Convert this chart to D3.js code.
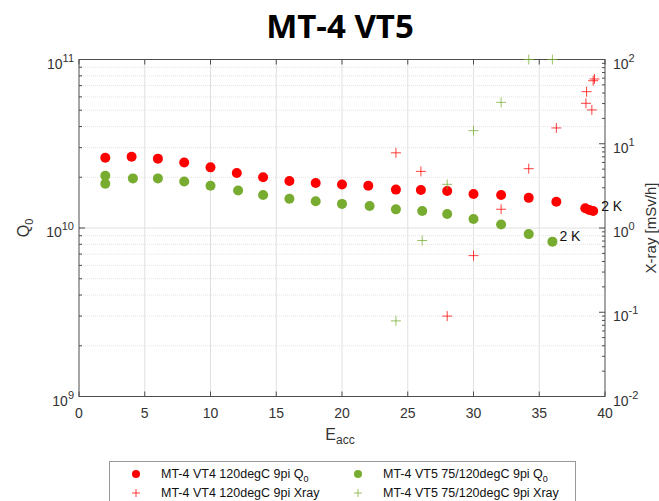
<!DOCTYPE html>
<html>
<head>
<meta charset="utf-8">
<script src="https://cdn.jsdelivr.net/npm/d3@7"></script>
<style>
  body { margin: 0; background: #fff; }
  text { font-family: "Liberation Sans", Arial, sans-serif; }
</style>
</head>
<body>
<script>
// MT-4 VT4 data (120degC 9pi)
var eaccVT4 = [2, 4, 6, 8, 10, 12, 14, 16, 18, 20, 22, 24.1, 26, 28, 30, 32.1, 34.2, 36.3, 38.5, 38.8, 39.1];
var q0VT4 = [2.61e10, 2.65e10, 2.58e10, 2.45e10, 2.29e10, 2.12e10, 2.0e10, 1.9e10, 1.85e10, 1.81e10, 1.78e10,
             1.69e10, 1.68e10, 1.66e10, 1.59e10, 1.57e10, 1.51e10, 1.43e10, 1.31e10, 1.28e10, 1.26e10];
var eaccXrayVT4 = [24.1, 26, 28, 30, 32.1, 34.2, 36.3, 38.55, 38.6, 39.0, 39.1, 39.2];
var xrayVT4 = [7.8, 4.7, 0.09, 0.47, 1.67, 5.06, 15.4, 30.2, 41.5, 25.2, 56, 58.7];

// MT-4 VT5 data (75/120degC 9pi)
var eaccVT5 = [2, 2, 4.1, 6, 8, 10, 12.1, 14, 16, 18, 20, 22.1, 24.1, 26.1, 28, 30, 32.1, 34.2, 36];
var q0VT5 = [2.04e10, 1.83e10, 1.97e10, 1.97e10, 1.89e10, 1.78e10, 1.67e10, 1.57e10, 1.49e10, 1.44e10, 1.39e10,
             1.35e10, 1.29e10, 1.26e10, 1.21e10, 1.13e10, 1.05e10, 9.2e9, 8.3e9];
var eaccXrayVT5 = [24.1, 26.1, 28, 30, 32.1, 34.2, 36];
var xrayVT5 = [0.079, 0.71, 3.3, 14.3, 31, 100, 100];

var xTicks = [0, 5, 10, 15, 20, 25, 30, 35, 40];
var leftDecades = [9, 10, 11];
var rightDecades = [-2, -1, 0, 1, 2];
var legendLabels = ["MT-4 VT4 120degC 9pi Q", "MT-4 VT5 75/120degC 9pi Q",
                    "MT-4 VT4 120degC 9pi Xray", "MT-4 VT5 75/120degC 9pi Xray"];

var red = "#ff0000", green = "#77ac30", axisCol = "#4d4d4d", textCol = "#333";

var W = 659, H = 501;
var L = 79, R = 605, T = 59.5, B = 396.5;

var svg = d3.select("body").append("svg")
            .attr("width", W).attr("height", H);

var x = d3.scaleLinear().domain([0, 40]).range([L, R]);
var yL = d3.scaleLog().domain([1e9, 1e11]).range([B, T]);
var yR = d3.scaleLog().domain([1e-2, 1e2]).range([B, T]);

// title
svg.append("text")
   .attr("x", 340).attr("y", 38)
   .attr("text-anchor", "middle")
   .style("font-family", "'Open Sans', sans-serif")
   .style("font-weight", "bold")
   .style("font-size", "33px")
   .attr("fill", "#000")
   .text("MT-4 VT5");

// minor values per decade
function minors(lo, hi) {
    var out = [];
    for (var d = lo; d < hi; d++)
        for (var m = 2; m <= 9; m++) out.push(m * Math.pow(10, d));
    return out;
}

// grid
var grid = svg.append("g");
grid.selectAll(".gx").data(xTicks.slice(1, -1)).enter().append("line")
    .attr("x1", d => x(d)).attr("x2", d => x(d))
    .attr("y1", T).attr("y2", B)
    .attr("stroke", "#e0e0e0").attr("stroke-width", 1);
grid.selectAll(".gym").data(minors(9, 11)).enter().append("line")
    .attr("x1", L).attr("x2", R)
    .attr("y1", d => yL(d)).attr("y2", d => yL(d))
    .attr("stroke", "#e4e4e4").attr("stroke-width", 1)
    .attr("stroke-dasharray", "1,1");
grid.selectAll(".gy").data([1e10]).enter().append("line")
    .attr("x1", L).attr("x2", R)
    .attr("y1", d => yL(d)).attr("y2", d => yL(d))
    .attr("stroke", "#e0e0e0").attr("stroke-width", 1);

// box
svg.append("rect")
   .attr("x", L).attr("y", T).attr("width", R - L).attr("height", B - T)
   .attr("fill", "none").attr("stroke", axisCol).attr("stroke-width", 1);

// x ticks (bottom & top, inward)
var tk = svg.append("g").attr("stroke", axisCol).attr("stroke-width", 1);
xTicks.forEach(function(t) {
    tk.append("line").attr("x1", x(t)).attr("x2", x(t)).attr("y1", B).attr("y2", B - 5);
    tk.append("line").attr("x1", x(t)).attr("x2", x(t)).attr("y1", T).attr("y2", T + 5);
});
// left ticks
leftDecades.forEach(function(d) {
    var v = Math.pow(10, d);
    tk.append("line").attr("x1", L).attr("x2", L + 6).attr("y1", yL(v)).attr("y2", yL(v));
});
minors(9, 11).forEach(function(v) {
    tk.append("line").attr("x1", L).attr("x2", L + 3).attr("y1", yL(v)).attr("y2", yL(v));
});
// right ticks
rightDecades.forEach(function(d) {
    var v = Math.pow(10, d);
    tk.append("line").attr("x1", R).attr("x2", R - 6).attr("y1", yR(v)).attr("y2", yR(v));
});
minors(-2, 2).forEach(function(v) {
    tk.append("line").attr("x1", R).attr("x2", R - 3).attr("y1", yR(v)).attr("y2", yR(v));
});

// x tick labels
svg.append("g").selectAll("text").data(xTicks).enter().append("text")
   .attr("x", d => x(d)).attr("y", B + 21)
   .attr("text-anchor", "middle")
   .style("font-size", "14px").attr("fill", textCol)
   .text(d => d);

// power-of-ten labels
function powLabel(g, px, py, exp, anchor) {
    var t = g.append("text").attr("x", px).attr("y", py + 9)
             .attr("text-anchor", anchor)
             .style("font-size", "14px").attr("fill", textCol);
    t.append("tspan").text("10");
    t.append("tspan").attr("dy", -7).style("font-size", "11px").text(exp);
}
var lab = svg.append("g");
leftDecades.forEach(function(d) { powLabel(lab, L - 5, yL(Math.pow(10, d)), d, "end"); });
rightDecades.forEach(function(d) { powLabel(lab, R + 8, yR(Math.pow(10, d)), d, "start"); });

// axis titles
var xl = svg.append("text").attr("x", 340).attr("y", 440)
            .attr("text-anchor", "middle").attr("fill", textCol)
            .style("font-size", "16px");
xl.append("tspan").text("E");
xl.append("tspan").attr("dy", 4).style("font-size", "12px").text("acc");

var yl = svg.append("text")
            .attr("transform", "translate(29," + ((T + B) / 2) + ") rotate(-90)")
            .attr("text-anchor", "middle").attr("fill", textCol)
            .style("font-size", "16px");
yl.append("tspan").text("Q");
yl.append("tspan").attr("dy", 4).style("font-size", "11px").text("0");

svg.append("text")
   .attr("transform", "translate(656," + ((T + B) / 2) + ") rotate(-90)")
   .attr("text-anchor", "middle").attr("fill", textCol)
   .style("font-size", "15px")
   .text("X-ray [mSv/h]");

// plus marker path
function plus(s) { return "M" + (-s) + ",0H" + s + "M0," + (-s) + "V" + s; }

var plot = svg.append("g");

// Q0 dots
plot.selectAll(".q4").data(d3.zip(eaccVT4, q0VT4)).enter().append("circle")
    .attr("cx", d => x(d[0])).attr("cy", d => yL(d[1])).attr("r", 5)
    .attr("fill", red);
plot.selectAll(".q5").data(d3.zip(eaccVT5, q0VT5)).enter().append("circle")
    .attr("cx", d => x(d[0])).attr("cy", d => yL(d[1])).attr("r", 5)
    .attr("fill", green);

// xray crosses
plot.selectAll(".x4").data(d3.zip(eaccXrayVT4, xrayVT4)).enter().append("path")
    .attr("transform", d => "translate(" + x(d[0]) + "," + yR(d[1]) + ")")
    .attr("d", plus(5)).attr("stroke", red).attr("stroke-width", 1)
    .attr("stroke-opacity", 0.75).attr("fill", "none");
plot.selectAll(".x5").data(d3.zip(eaccXrayVT5, xrayVT5)).enter().append("path")
    .attr("transform", d => "translate(" + x(d[0]) + "," + yR(d[1]) + ")")
    .attr("d", plus(5)).attr("stroke", green).attr("stroke-width", 1)
    .attr("stroke-opacity", 0.75).attr("fill", "none");

// 2 K annotations, next to last Q0 point of each cavity
var last4 = eaccVT4.length - 1, last5 = eaccVT5.length - 1;
svg.append("text")
   .attr("x", x(eaccVT4[last4]) + 8).attr("y", yL(q0VT4[last4]))
   .style("font-size", "14px").attr("fill", "#111")
   .text("2 K");
svg.append("text")
   .attr("x", x(eaccVT5[last5]) + 7).attr("y", yL(q0VT5[last5]) - 1)
   .style("font-size", "14px").attr("fill", "#111")
   .text("2 K");

// legend
var lg = svg.append("g");
lg.append("rect").attr("x", 109.5).attr("y", 461.5).attr("width", 466).attr("height", 60)
  .attr("fill", "#fff").attr("stroke", "#999").attr("stroke-width", 1);
var legendItems = [
    {col: red, dot: true, lx: 136, ly: 474},
    {col: green, dot: true, lx: 358, ly: 474},
    {col: red, dot: false, lx: 136, ly: 493},
    {col: green, dot: false, lx: 358, ly: 493}
];
legendItems.forEach(function(it, i) {
    if (it.dot) {
        lg.append("circle").attr("cx", it.lx).attr("cy", it.ly).attr("r", 4).attr("fill", it.col);
    } else {
        lg.append("path").attr("transform", "translate(" + it.lx + "," + it.ly + ")")
          .attr("d", plus(4)).attr("stroke", it.col).attr("stroke-opacity", 0.75).attr("fill", "none");
    }
    var t = lg.append("text").attr("x", it.lx + 25).attr("y", it.ly + 4)
              .style("font-size", "12.5px").attr("fill", "#111");
    t.append("tspan").text(legendLabels[i]);
    if (it.dot) t.append("tspan").attr("dy", 4).style("font-size", "9px").text("0");
});
</script>
</body>
</html>
